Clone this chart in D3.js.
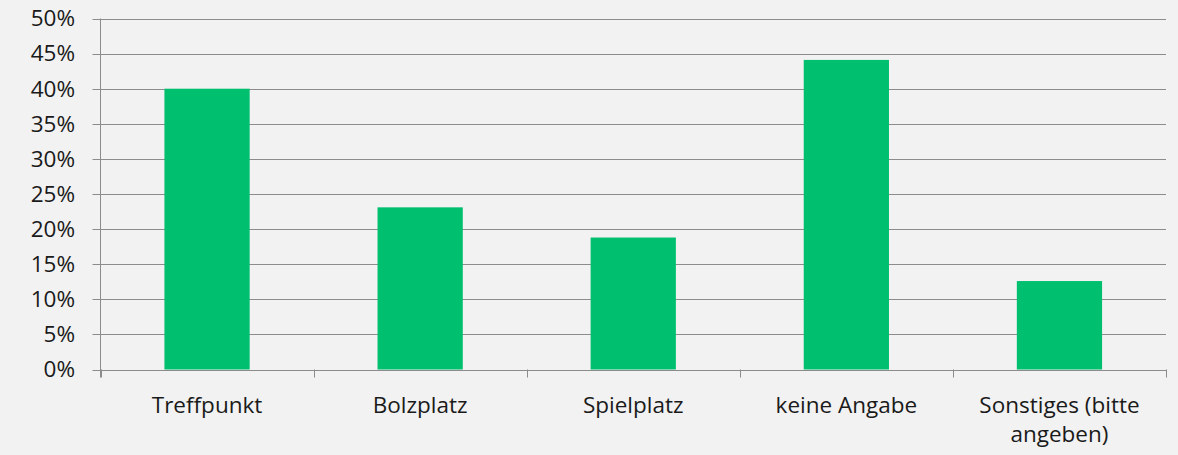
<!DOCTYPE html>
<html><head><meta charset="utf-8">
<script src="https://cdn.jsdelivr.net/npm/d3@7"></script>
<style>html,body{margin:0;padding:0;background:#f2f2f2;}</style>
</head><body><svg id="c" width="1178" height="455"></svg>
<script>
const categories = ["Treffpunkt", "Bolzplatz", "Spielplatz", "keine Angabe", "Sonstiges (bitte angeben)"];
const values = [0.40, 0.231, 0.188, 0.441, 0.126];
const tickValues = [0, 0.05, 0.10, 0.15, 0.20, 0.25, 0.30, 0.35, 0.40, 0.45, 0.50];
const labelLines = [["Treffpunkt"], ["Bolzplatz"], ["Spielplatz"], ["keine Angabe"], ["Sonstiges (bitte", "angeben)"]];

(function(){
const svg = d3.select("#c");
const mLeft = 100.5, mRight = 1166, mTop = 18.5, mBottom = 369.5;
const x = d3.scaleBand().domain(categories).range([mLeft, mRight]).paddingInner(0).paddingOuter(0);
const y = d3.scaleLinear().domain([0, 0.5]).range([mBottom, mTop]);
const font = "'Open Sans', 'Noto Sans', sans-serif";
const fs = 22.5;
const grid = "#8c8c8c";

svg.append("rect").attr("width",1178).attr("height",455).attr("fill","#f2f2f2");

svg.append("g").selectAll("line").data(tickValues).join("line")
  .attr("x1", mLeft - 8).attr("x2", mRight)
  .attr("y1", d => Math.round(y(d)) + 0.5).attr("y2", d => Math.round(y(d)) + 0.5)
  .attr("stroke", grid).attr("stroke-width", 1);

svg.append("g").selectAll("text").data(tickValues).join("text")
  .attr("x", 75).attr("y", d => y(d)).attr("dy", "0.35em")
  .attr("text-anchor", "end").attr("font-family", font).attr("font-size", fs)
  .attr("fill", "#1a1a1a").text(d => d3.format(".0%")(d));

const bw = x.bandwidth() * 0.4;
svg.append("g").selectAll("rect").data(values).join("rect")
  .attr("x", (d, i) => x(categories[i]) + (x.bandwidth() - bw) / 2)
  .attr("width", bw)
  .attr("y", d => y(d)).attr("height", d => y(0) - y(d))
  .attr("fill", "#00bf6f");

svg.append("line").attr("x1", mLeft).attr("x2", mLeft).attr("y1", mTop).attr("y2", mBottom + 8)
  .attr("stroke", grid).attr("stroke-width", 1);
svg.append("line").attr("x1", mLeft).attr("x2", mRight).attr("y1", Math.round(y(0)) + 0.5).attr("y2", Math.round(y(0)) + 0.5)
  .attr("stroke", grid).attr("stroke-width", 1);
const bounds = categories.map(c => x(c)).concat([mRight]);
svg.append("g").selectAll("line").data(bounds).join("line")
  .attr("x1", d => Math.round(d) + 0.5).attr("x2", d => Math.round(d) + 0.5)
  .attr("y1", mBottom).attr("y2", mBottom + 8)
  .attr("stroke", grid).attr("stroke-width", 1);

const xl = svg.append("g").selectAll("text").data(categories).join("text")
  .attr("x", d => x(d) + x.bandwidth() / 2).attr("y", 413)
  .attr("text-anchor", "middle").attr("font-family", font).attr("font-size", fs)
  .attr("fill", "#1a1a1a");
xl.each(function(d, i) {
  const t = d3.select(this);
  labelLines[i].forEach((ln, j) => {
    t.append("tspan").attr("x", x(d) + x.bandwidth() / 2).attr("dy", j === 0 ? 0 : 29).text(ln);
  });
});
})();
</script></body></html>
